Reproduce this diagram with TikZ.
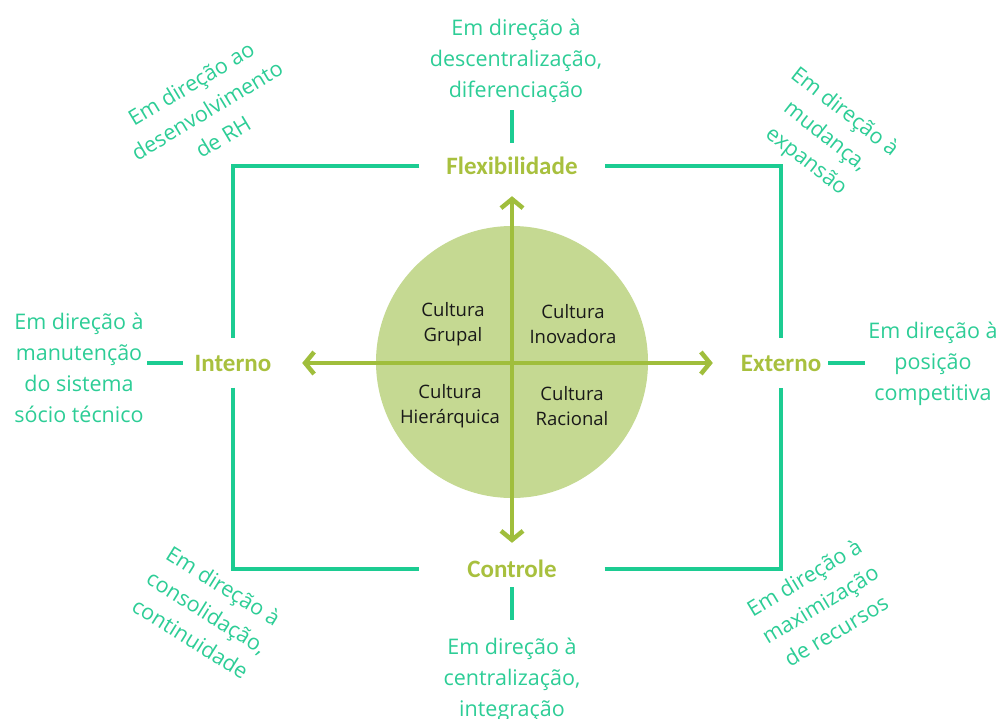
\documentclass[tikz,border=0pt]{standalone}
\usepackage{fontspec}
\setmainfont{Open Sans}
\newfontfamily\lblfont{Carlito}
\usetikzlibrary{arrows.meta}
\definecolor{myteal}{RGB}{28,204,146}
\definecolor{mytealtxt}{RGB}{45,205,150}
\definecolor{myolive}{RGB}{160,190,60}
\definecolor{mylbl}{RGB}{168,192,62}
\definecolor{mycirc}{RGB}{197,217,146}
\definecolor{mydark}{RGB}{25,25,25}
\tikzset{
  frame/.style={draw=myteal, line width=4pt},
  dirtext/.style={text=mytealtxt, align=center, font=\fontsize{21.5}{31}\selectfont},
  axislabel/.style={text=mylbl, font=\lblfont\bfseries\fontsize{25}{28}\selectfont, inner sep=0pt},
  culture/.style={text=mydark, align=center, font=\fontsize{18.5}{25.5}\selectfont},
  axis/.style={draw=myolive, line width=4.5pt,
    {Straight Barb[length=9pt,width=22pt]}-{Straight Barb[length=9pt,width=22pt]}}
}

\begin{document}
\begin{tikzpicture}[x=1pt, y=-1pt]
  \useasboundingbox (0,0) rectangle (1003,718);

  % central circle and the four cultures
  \node[circle, fill=mycirc, minimum size=272pt, inner sep=0pt] (cult) at (512,362) {};
  \node[culture] (grupal) at (453,324) {Cultura\\Grupal};
  \node[culture] (inova) at (573,324) {Cultura\\Inovadora};
  \node[culture] (hier) at (450,406) {Cultura\\Hierárquica};
  \node[culture] (racio) at (572,406) {Cultura\\Racional};

  % axis labels
  \node[axislabel, minimum width=185pt, minimum height=46pt] (flex) at (512,166) {Flexibilidade};
  \node[axislabel, minimum width=185pt, minimum height=36pt] (ctrl) at (512,569) {Controle};
  \node[axislabel, minimum width=100pt, minimum height=49pt] (intern) at (233,363) {Interno};
  \node[axislabel, minimum width=94pt, minimum height=50pt] (extern) at (781,363) {Externo};

  % axes
  \draw[axis, shorten <=19pt, shorten >=21pt] (intern.east) -- (extern.west);
  \draw[axis, shorten <=7pt, shorten >=8pt] (flex.south) -- (ctrl.north);

  % outer frame
  \draw[frame] (flex.west) -| (intern.north);
  \draw[frame] (intern.south) |- (ctrl.west);
  \draw[frame] (ctrl.east) -| (extern.south);
  \draw[frame] (extern.north) |- (flex.east);

  % directions
  \node[dirtext] (toptxt) at (516,61) {Em direção à\\descentralização,\\diferenciação};
  \node[dirtext] (bottxt) at (512,680) {Em direção à\\centralização,\\integração};
  \node[dirtext] (lefttxt) at (79,368) {Em direção à\\manutenção\\do sistema\\sócio técnico};
  \node[dirtext] (righttxt) at (933,364) {Em direção à\\posição\\competitiva};
  \node[dirtext, rotate=31] (nwtxt) at (207,110) {Em direção ao\\desenvolvimento\\de RH};
  \node[dirtext, rotate=-38] (netxt) at (825,137) {Em direção à\\mudança,\\expansão};
  \node[dirtext, rotate=-32] (swtxt) at (207,612) {Em direção à\\consolidação,\\continuidade};
  \node[dirtext, rotate=31] (setxt) at (820,604) {Em direção à\\maximização\\de recursos};

  % stubs
  \draw[frame] (flex.north) -- ++(0,-33);
  \draw[frame] (ctrl.south) -- ++(0,33);
  \draw[frame] (intern.west) -- (intern.west -| lefttxt.east);
  \draw[frame] (extern.east) -- (extern.east -| righttxt.west);
\end{tikzpicture}
\end{document}
